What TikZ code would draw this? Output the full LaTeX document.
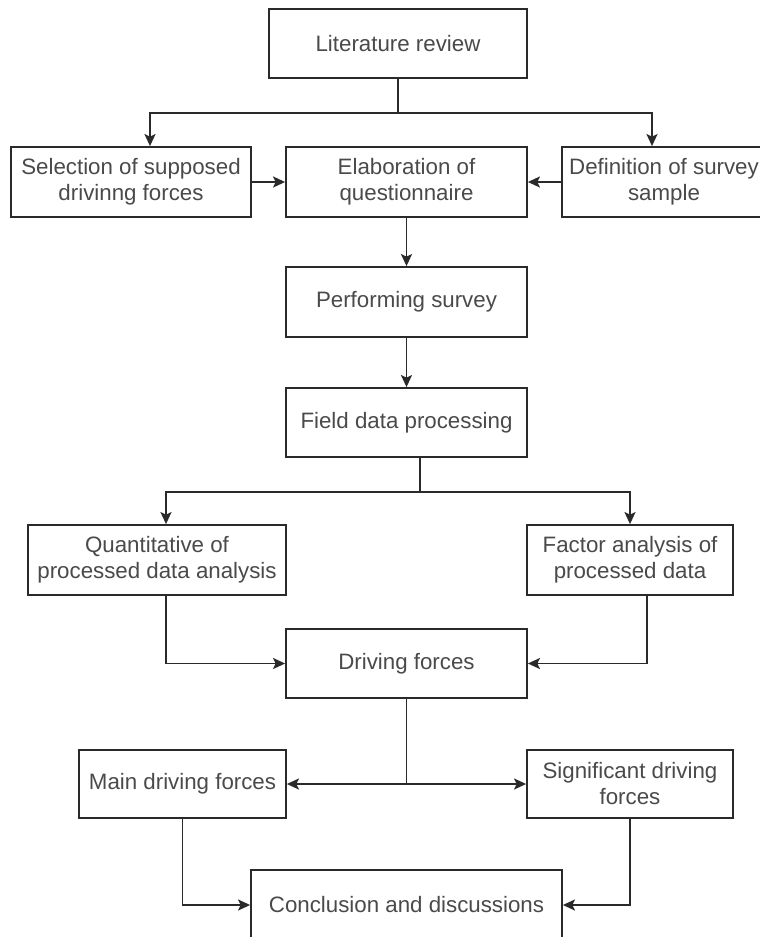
\documentclass[tikz,border=0pt]{standalone}
\usepackage{fontspec}
\setmainfont{Liberation Sans}
\usetikzlibrary{arrows.meta}
\definecolor{linec}{HTML}{2A2A2A}
\definecolor{textc}{HTML}{4A4A4A}
\tikzset{
  box/.style={draw=linec, line width=1.8pt, rectangle, inner sep=0pt, align=center,
    text=textc, font=\fontsize{22.3}{26}\selectfont},
  conn/.style={draw=linec, line width=1.7pt, -{Stealth[length=12pt,width=11pt,inset=2.5pt]}},
  bconn/.style={draw=linec, line width=1.7pt, {Stealth[length=12pt,width=11pt,inset=2.5pt]}-{Stealth[length=12pt,width=11pt,inset=2.5pt]}},
  plain/.style={draw=linec, line width=1.7pt}
}
\begin{document}
\begin{tikzpicture}[x=1pt,y=-1pt]
\useasboundingbox[fill=white] (0,0) rectangle (760,937);
% boxes: (center), width, height
\node[box, minimum width=258pt, minimum height=69pt] (lit) at (398,43.5) {Literature review};
\node[box, minimum width=240pt, minimum height=70pt] (sel) at (131,182) {Selection of supposed\\drivinng forces};
\node[box, minimum width=241pt, minimum height=70pt] (ela) at (406.5,182) {Elaboration of\\questionnaire};
\node[box, minimum width=204pt, minimum height=70pt] (def) at (664,182) {Definition of survey\\sample};
\node[box, minimum width=241pt, minimum height=70pt] (perf) at (406.5,302) {Performing survey};
\node[box, minimum width=241pt, minimum height=69pt] (field) at (406.5,422.5) {Field data processing};
\node[box, minimum width=258pt, minimum height=70pt] (quant) at (157,560) {Quantitative of\\processed data analysis};
\node[box, minimum width=206pt, minimum height=70pt] (fact) at (630,560) {Factor analysis of\\processed data};
\node[box, minimum width=241pt, minimum height=69pt] (drive) at (406.5,663.5) {Driving forces};
\node[box, minimum width=207pt, minimum height=68pt] (main) at (182.5,784) {Main driving forces};
\node[box, minimum width=206pt, minimum height=68pt] (sig) at (630,784) {Significant driving\\forces};
\node[box, minimum width=311pt, minimum height=70pt] (conc) at (406.5,905) {Conclusion and discussions};
% junction coordinates
\coordinate (j1) at (398,113);
\coordinate (j2) at (420,492);
\coordinate (j3) at (406.5,784);
% connectors
\draw[plain] (lit.south) -- (j1);
\draw[conn] (j1) -| (sel.north -| 150,0);
\draw[conn] (j1) -| (def.north -| 652,0);
\draw[conn] (sel) -- (ela);
\draw[conn] (def) -- (ela);
\draw[conn] (ela) -- (perf);
\draw[conn] (perf) -- (field);
\draw[plain] (field.south -| j2) -- (j2);
\draw[conn] (j2) -| (quant.north -| 166,0);
\draw[conn] (j2) -| (fact.north);
\draw[conn] (quant.south -| 166,0) |- (drive.west);
\draw[conn] (fact.south -| 647,0) |- (drive.east);
\draw[plain] (drive.south) -- (j3);
\draw[bconn] (main.east) -- (sig.west);
\draw[conn] (main.south) |- (conc.west);
\draw[conn] (sig.south) |- (conc.east);
\end{tikzpicture}
\end{document}
